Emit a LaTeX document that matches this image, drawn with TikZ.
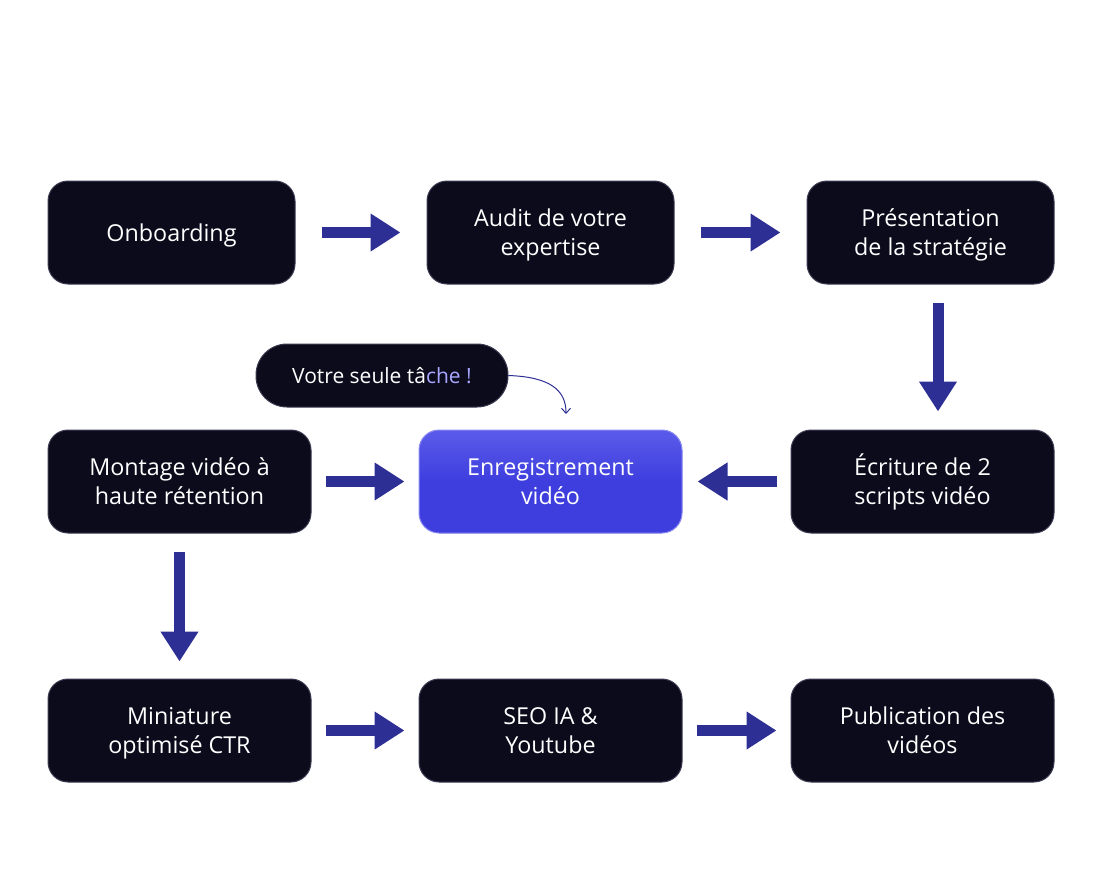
\documentclass[tikz,border=0pt]{standalone}
\usepackage{fontspec}
\setmainfont{Open Sans}
\usetikzlibrary{arrows.meta,calc}
\definecolor{boxfill}{HTML}{0C0B1C}
\definecolor{boxline}{HTML}{3C3B52}
\definecolor{arrowc}{HTML}{2E2F95}
\definecolor{enrtop}{HTML}{5B5BEA}
\definecolor{enrbot}{HTML}{3E3EDF}
\definecolor{enrline}{HTML}{8A8AF2}
\definecolor{lav}{HTML}{A9A6FF}
\tikzset{
  box/.style={draw=boxline, line width=1pt, fill=boxfill, rounded corners=20pt,
    minimum width=247pt, minimum height=103pt, text=white, align=center,
    font=\fontsize{23.3}{29}\selectfont, inner sep=0pt, text depth=0pt},
  widebox/.style={box, minimum width=263pt},
  flow/.style={draw=arrowc, line width=11pt, -{Triangle[length=30pt,width=36pt]}},
  pill/.style={draw=boxline, line width=1pt, fill=boxfill, rounded corners=31pt,
    minimum width=252pt, minimum height=63pt, text=white,
    font=\fontsize{21}{22}\selectfont, inner sep=0pt, text depth=0pt},
  hint/.style={draw=arrowc, line width=1pt, -{Straight Barb[length=5pt,width=9pt]}}
}
\begin{document}
\begin{tikzpicture}[x=1pt,y=-1pt]
\useasboundingbox (0,0) rectangle (1102,880);
\node[box] (on) at (171.5,232.5) {Onboarding};
\node[box] (au) at (550.5,232.5) {Audit de votre\\expertise};
\node[box] (pr) at (930.5,232.5) {Présentation\\de la stratégie};
\node[widebox] (mo) at (179.5,481.5) {Montage vidéo à\\haute rétention};
\node[widebox, draw=enrline, top color=enrtop, bottom color=enrbot, middle color=enrbot] (en) at (550.5,481.5) {Enregistrement\\vidéo};
\node[widebox] (ec) at (922.5,481.5) {\smash{É}criture de 2\\scripts vidéo};
\node[widebox] (mi) at (179.5,730.5) {Miniature\\optimisé CTR};
\node[widebox] (se) at (550.5,730.5) {SEO IA \&\\Youtube};
\node[widebox] (pu) at (922.5,730.5) {Publication des\\vidéos};
\node[pill] (pi) at (382,375.5) {Votre seule tâ\textcolor{lav}{che !}};
\coordinate (tip) at (566,414);

\draw[flow, shorten <=26pt, shorten >=26pt] (on) -- (au);
\draw[flow, shorten <=26pt, shorten >=26pt] (au) -- (pr);
\draw[flow, shorten <=18pt, shorten >=18pt] ([xshift=7.5pt]pr.south) -- ([xshift=15.5pt]ec.north);
\draw[flow, shorten <=14pt, shorten >=15pt] (ec) -- (en);
\draw[flow, shorten <=14pt, shorten >=14pt] (mo) -- (en);
\draw[flow, shorten <=18pt, shorten >=17pt] (mo) -- (mi);
\draw[flow, shorten <=14pt, shorten >=14pt] (mi) -- (se);
\draw[flow, shorten <=14pt, shorten >=14pt] (se) -- (pu);
\draw[hint] (pi.east) .. controls (550,377) and (566,390) .. (tip);
\end{tikzpicture}
\end{document}
